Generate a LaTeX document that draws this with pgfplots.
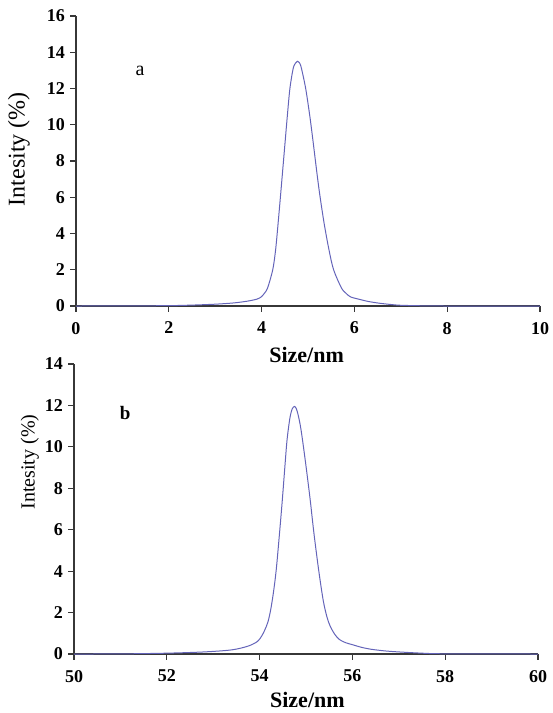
\documentclass[border=0pt]{standalone}
\usepackage{fontspec}
\setmainfont{Liberation Serif}
\usepackage{pgfplots}
\pgfplotsset{compat=1.18}
\definecolor{curve}{RGB}{100,100,185}
\definecolor{axgray}{RGB}{55,55,55}
\begin{document}
\begin{tikzpicture}
\useasboundingbox (0pt,0pt) rectangle (553pt,-713pt);
\pgfplotsset{
 myax/.style={
  scale only axis, width=464pt, height=290pt,
  axis x line=bottom, axis y line=left,
  axis line style={-, axgray, line width=1.3pt},
  tick align=outside, major tick length=5.5pt,
  tick style={axgray, line width=1.1pt},
  /pgf/number format/assume math mode=true,
  tick label style={font=\fontsize{18}{18}\selectfont\bfseries},
  xticklabel style={yshift=-7pt},
  yticklabel style={xshift=-2pt},
  xlabel style={font=\fontsize{22}{22}\selectfont\bfseries, anchor=center},
  enlargelimits=false,
 }
}
\begin{axis}[myax, at={(76pt,-306pt)}, anchor=south west,
  xmin=0, xmax=10, ymin=0, ymax=16,
  xtick={0,2,...,10}, ytick={0,2,...,16},
  xlabel={Size/nm}, ylabel={Intesity (\%)},
  xlabel style={at={(axis description cs:0.497,-0.169)}},
  ylabel style={font=\fontsize{24}{24}\selectfont, at={(axis description cs:-0.123,0.541)}, anchor=center},
]
\addplot[curve, line width=1pt, smooth, tension=0.5] coordinates {
(0,0) (1,0.005) (2,0.02) (2.5,0.05) (3.0,0.1) (3.4,0.17) (3.7,0.27) (3.9,0.38)
(3.99,0.5) (4.06,0.7) (4.13,1.0) (4.24,2.0) (4.302,3.1) (4.357,4.6) (4.415,6.3)
(4.465,7.8) (4.505,9.0) (4.555,10.5) (4.61,12.0) (4.68,13.1) (4.73,13.4) (4.77,13.5)
(4.82,13.4) (4.86,13.1) (4.95,12.0) (5.038,10.5) (5.113,9.0) (5.17,7.8) (5.245,6.3)
(5.345,4.6) (5.452,3.1) (5.552,2.0) (5.72,1.0) (5.82,0.7) (5.92,0.5)
(6.12,0.36) (6.3,0.25) (6.55,0.15) (6.8,0.08) (7.0,0.04) (7.5,0.01) (8,0) (10,0)
};
\node[font=\fontsize{20}{20}\selectfont] at (axis cs:1.38,12.98) {a};
\end{axis}
\begin{axis}[myax, at={(74pt,-654pt)}, anchor=south west,
  xmin=50, xmax=60, ymin=0, ymax=14,
  xtick={50,52,...,60}, ytick={0,2,...,14},
  xlabel={Size/nm}, ylabel={Intesity (\%)},
  xlabel style={at={(axis description cs:0.503,-0.159)}},
  ylabel style={font=\fontsize{20}{20}\selectfont, at={(axis description cs:-0.095,0.662)}, anchor=center},
]
\addplot[curve, line width=1pt, smooth, tension=0.5] coordinates {
(50,0) (51,0.005) (52,0.04) (52.8,0.1) (53.4,0.2) (53.75,0.38) (53.95,0.6)
(54.04,0.85) (54.11,1.15) (54.18,1.55) (54.24,2.15) (54.30,3.0) (54.36,4.1) (54.43,5.85)
(54.49,7.45) (54.54,8.9) (54.59,10.3) (54.65,11.35) (54.70,11.82) (54.75,11.95)
(54.79,11.85) (54.83,11.55) (54.88,11.0) (54.93,10.25) (55.01,8.9) (55.09,7.45) (55.17,5.85)
(55.27,4.1) (55.37,2.6) (55.45,1.8) (55.52,1.35) (55.62,0.95) (55.72,0.7)
(55.85,0.55) (56.0,0.45) (56.2,0.32) (56.4,0.23) (56.7,0.15) (57.0,0.1)
(57.5,0.04) (58,0.01) (60,0)
};
\node[font=\fontsize{19}{19}\selectfont\bfseries] at (axis cs:51.10,11.64) {b};
\end{axis}
\end{tikzpicture}
\end{document}
